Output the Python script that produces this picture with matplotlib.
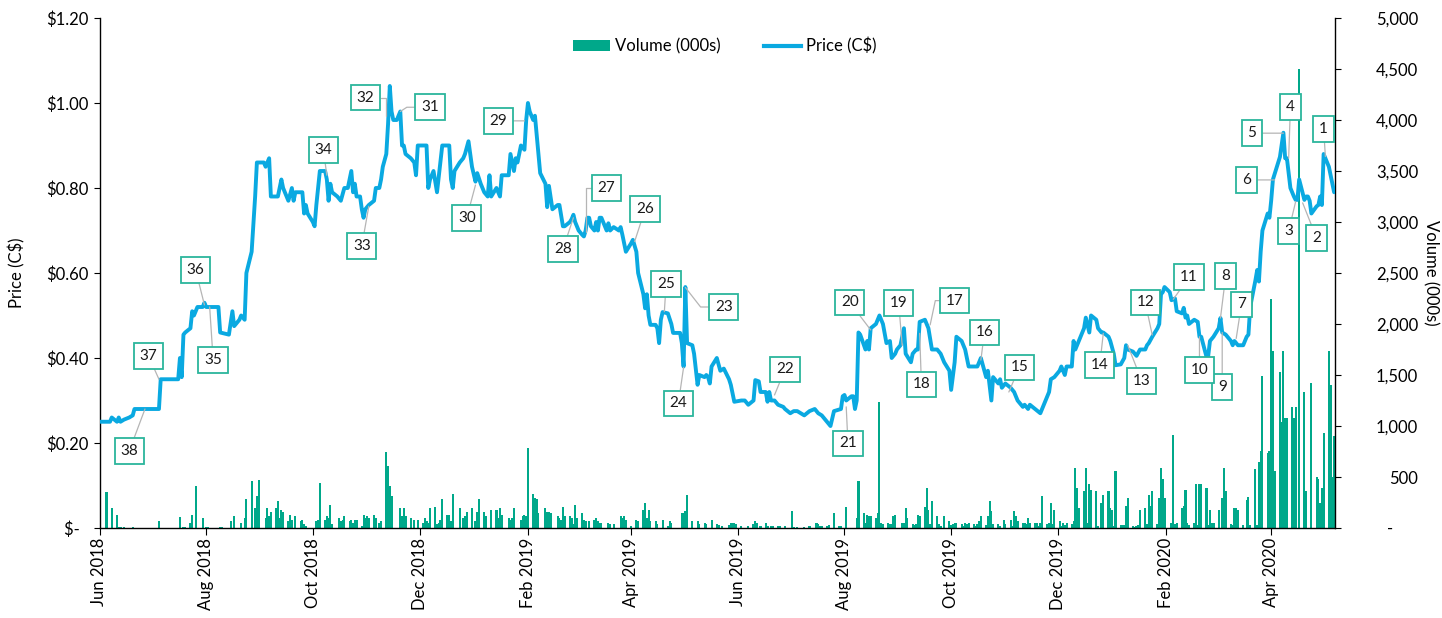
import matplotlib
matplotlib.use('Agg')
import matplotlib.pyplot as plt
import matplotlib.dates as mdates
from matplotlib.patches import Patch
from matplotlib.lines import Line2D
from matplotlib.ticker import FuncFormatter, MultipleLocator
import pandas as pd

plt.rcParams['font.family'] = ['Lato', 'DejaVu Sans']

BLUE = '#0aa9e1'
GREEN = '#00a88a'
BOX_EDGE = '#2bb59c'
LEADER = '#b5b5b5'

# daily closing price (C$)
price_dates = [
    '2018-06-01', '2018-06-07', '2018-06-08', '2018-06-11', '2018-06-12', '2018-06-13', '2018-06-15',
    '2018-06-18', '2018-06-20', '2018-06-21', '2018-07-05', '2018-07-06', '2018-07-16', '2018-07-17',
    '2018-07-18', '2018-07-19', '2018-07-20', '2018-07-23', '2018-07-24', '2018-07-25', '2018-07-26',
    '2018-07-27', '2018-07-30', '2018-07-31', '2018-08-01', '2018-08-08', '2018-08-09', '2018-08-14',
    '2018-08-16', '2018-08-17', '2018-08-20', '2018-08-21', '2018-08-23', '2018-08-24', '2018-08-27',
    '2018-08-29', '2018-08-30', '2018-09-03', '2018-09-04', '2018-09-06', '2018-09-07', '2018-09-11',
    '2018-09-13', '2018-09-14', '2018-09-17', '2018-09-19', '2018-09-20', '2018-09-21', '2018-09-25',
    '2018-09-26', '2018-09-27', '2018-09-28', '2018-10-01', '2018-10-02', '2018-10-03', '2018-10-04',
    '2018-10-05', '2018-10-08', '2018-10-09', '2018-10-10', '2018-10-11', '2018-10-12', '2018-10-15',
    '2018-10-17', '2018-10-19', '2018-10-21', '2018-10-22', '2018-10-23', '2018-10-24', '2018-10-25',
    '2018-10-26', '2018-10-28', '2018-10-29', '2018-10-30', '2018-10-31', '2018-11-02', '2018-11-05',
    '2018-11-06', '2018-11-08', '2018-11-09', '2018-11-10', '2018-11-12', '2018-11-13', '2018-11-14',
    '2018-11-15', '2018-11-16', '2018-11-18', '2018-11-20', '2018-11-21', '2018-11-22', '2018-11-23',
    '2018-11-26', '2018-11-28', '2018-11-29', '2018-11-30', '2018-12-05', '2018-12-06', '2018-12-07',
    '2018-12-09', '2018-12-11', '2018-12-14', '2018-12-18', '2018-12-19', '2018-12-20', '2018-12-21',
    '2018-12-24', '2018-12-26', '2018-12-27', '2018-12-28', '2018-12-29', '2018-12-30', '2018-12-31',
    '2019-01-02', '2019-01-03', '2019-01-05', '2019-01-07', '2019-01-09', '2019-01-10', '2019-01-11',
    '2019-01-14', '2019-01-15', '2019-01-16', '2019-01-17', '2019-01-21', '2019-01-22', '2019-01-24',
    '2019-01-25', '2019-01-26', '2019-01-28', '2019-01-30', '2019-01-31', '2019-02-01', '2019-02-02',
    '2019-02-04', '2019-02-05', '2019-02-08', '2019-02-11', '2019-02-12', '2019-02-13', '2019-02-15',
    '2019-02-18', '2019-02-19', '2019-02-20', '2019-02-21', '2019-02-22', '2019-02-25', '2019-02-26',
    '2019-02-27', '2019-02-28', '2019-03-02', '2019-03-04', '2019-03-05', '2019-03-06', '2019-03-07',
    '2019-03-08', '2019-03-09', '2019-03-11', '2019-03-12', '2019-03-13', '2019-03-14', '2019-03-15',
    '2019-03-18', '2019-03-19', '2019-03-20', '2019-03-22', '2019-03-25', '2019-03-26', '2019-03-27',
    '2019-03-29', '2019-04-01', '2019-04-02', '2019-04-04', '2019-04-05', '2019-04-08', '2019-04-09',
    '2019-04-10', '2019-04-11', '2019-04-12', '2019-04-15', '2019-04-16', '2019-04-17', '2019-04-18',
    '2019-04-19', '2019-04-22', '2019-04-24', '2019-04-25', '2019-04-29', '2019-04-30', '2019-05-01',
    '2019-05-02', '2019-05-03', '2019-05-06', '2019-05-07', '2019-05-09', '2019-05-10', '2019-05-13',
    '2019-05-14', '2019-05-15', '2019-05-16', '2019-05-17', '2019-05-20', '2019-05-22', '2019-05-24',
    '2019-05-27', '2019-05-28', '2019-05-30', '2019-06-03', '2019-06-05', '2019-06-07', '2019-06-10',
    '2019-06-11', '2019-06-13', '2019-06-14', '2019-06-17', '2019-06-18', '2019-06-19', '2019-06-20',
    '2019-06-22', '2019-06-24', '2019-06-27', '2019-06-28', '2019-07-01', '2019-07-03', '2019-07-05',
    '2019-07-09', '2019-07-12', '2019-07-15', '2019-07-17', '2019-07-19', '2019-07-22', '2019-07-24',
    '2019-07-26', '2019-07-30', '2019-07-31', '2019-08-01', '2019-08-02', '2019-08-05', '2019-08-06',
    '2019-08-07', '2019-08-08', '2019-08-09', '2019-08-10', '2019-08-13', '2019-08-14', '2019-08-15',
    '2019-08-16', '2019-08-19', '2019-08-21', '2019-08-23', '2019-08-25', '2019-08-27', '2019-08-28',
    '2019-08-30', '2019-08-31', '2019-09-02', '2019-09-04', '2019-09-05', '2019-09-08', '2019-09-09',
    '2019-09-11', '2019-09-12', '2019-09-13', '2019-09-16', '2019-09-18', '2019-09-20', '2019-09-23',
    '2019-09-25', '2019-09-27', '2019-09-30', '2019-10-01', '2019-10-03', '2019-10-04', '2019-10-07',
    '2019-10-09', '2019-10-11', '2019-10-16', '2019-10-18', '2019-10-20', '2019-10-21', '2019-10-22',
    '2019-10-24', '2019-10-25', '2019-10-28', '2019-10-29', '2019-10-30', '2019-11-01', '2019-11-04',
    '2019-11-06', '2019-11-08', '2019-11-11', '2019-11-12', '2019-11-14', '2019-11-15', '2019-11-18',
    '2019-11-21', '2019-11-25', '2019-11-26', '2019-11-27', '2019-11-29', '2019-12-02', '2019-12-03',
    '2019-12-05', '2019-12-06', '2019-12-09', '2019-12-10', '2019-12-11', '2019-12-13', '2019-12-16',
    '2019-12-17', '2019-12-19', '2019-12-20', '2019-12-23', '2019-12-24', '2019-12-26', '2019-12-27',
    '2019-12-30', '2019-12-31', '2020-01-02', '2020-01-03', '2020-01-06', '2020-01-08', '2020-01-09',
    '2020-01-10', '2020-01-13', '2020-01-15', '2020-01-17', '2020-01-20', '2020-01-21', '2020-01-22',
    '2020-01-24', '2020-01-27', '2020-01-28', '2020-01-29', '2020-01-30', '2020-01-31', '2020-02-03',
    '2020-02-04', '2020-02-06', '2020-02-07', '2020-02-10', '2020-02-11', '2020-02-12', '2020-02-13',
    '2020-02-14', '2020-02-17', '2020-02-19', '2020-02-20', '2020-02-21', '2020-02-24', '2020-02-25',
    '2020-02-26', '2020-02-27', '2020-02-28', '2020-03-02', '2020-03-03', '2020-03-04', '2020-03-06',
    '2020-03-09', '2020-03-10', '2020-03-11', '2020-03-13', '2020-03-16', '2020-03-17', '2020-03-18',
    '2020-03-19', '2020-03-20', '2020-03-23', '2020-03-24', '2020-03-25', '2020-03-26', '2020-03-27',
    '2020-03-30', '2020-03-31', '2020-04-01', '2020-04-02', '2020-04-06', '2020-04-08', '2020-04-09',
    '2020-04-10', '2020-04-12', '2020-04-14', '2020-04-15', '2020-04-16', '2020-04-17', '2020-04-20',
    '2020-04-21', '2020-04-22', '2020-04-23', '2020-04-24', '2020-04-27', '2020-04-28', '2020-04-29',
    '2020-04-30', '2020-05-01', '2020-05-04', '2020-05-05', '2020-05-06', '2020-05-07',
]
price_vals = [
    0.250, 0.250, 0.260, 0.250, 0.260, 0.250, 0.255,
    0.260, 0.265, 0.280, 0.280, 0.350, 0.350, 0.400,
    0.355, 0.455, 0.460, 0.470, 0.510, 0.500, 0.510,
    0.520, 0.520, 0.530, 0.520, 0.520, 0.460, 0.455,
    0.510, 0.475, 0.490, 0.500, 0.490, 0.600, 0.650,
    0.780, 0.860, 0.860, 0.850, 0.870, 0.780, 0.780,
    0.820, 0.800, 0.770, 0.800, 0.770, 0.790, 0.790,
    0.740, 0.760, 0.740, 0.720, 0.710, 0.760, 0.800,
    0.840, 0.840, 0.820, 0.770, 0.810, 0.790, 0.780,
    0.770, 0.800, 0.800, 0.820, 0.840, 0.790, 0.810,
    0.780, 0.780, 0.750, 0.730, 0.750, 0.760, 0.770,
    0.800, 0.800, 0.820, 0.850, 0.880, 0.950, 1.040,
    0.980, 0.960, 0.960, 0.980, 0.900, 0.900, 0.880,
    0.870, 0.860, 0.830, 0.900, 0.900, 0.800, 0.820,
    0.840, 0.790, 0.900, 0.900, 0.820, 0.800, 0.840,
    0.860, 0.870, 0.880, 0.895, 0.910, 0.880, 0.850,
    0.815, 0.835, 0.810, 0.790, 0.780, 0.830, 0.780,
    0.800, 0.790, 0.780, 0.830, 0.830, 0.880, 0.840,
    0.870, 0.860, 0.900, 0.890, 0.960, 1.000, 0.980,
    0.960, 0.970, 0.835, 0.810, 0.755, 0.805, 0.750,
    0.760, 0.760, 0.735, 0.710, 0.710, 0.720, 0.727,
    0.737, 0.720, 0.700, 0.690, 0.686, 0.700, 0.730,
    0.730, 0.710, 0.700, 0.720, 0.700, 0.730, 0.730,
    0.700, 0.717, 0.700, 0.708, 0.700, 0.708, 0.690,
    0.650, 0.670, 0.678, 0.650, 0.600, 0.550, 0.517,
    0.550, 0.500, 0.478, 0.478, 0.470, 0.435, 0.490,
    0.508, 0.505, 0.480, 0.459, 0.459, 0.435, 0.380,
    0.567, 0.435, 0.430, 0.410, 0.337, 0.360, 0.355,
    0.360, 0.355, 0.340, 0.380, 0.400, 0.370, 0.375,
    0.350, 0.337, 0.297, 0.300, 0.300, 0.290, 0.300,
    0.348, 0.345, 0.320, 0.320, 0.297, 0.320, 0.300,
    0.300, 0.290, 0.285, 0.280, 0.270, 0.275, 0.275,
    0.265, 0.275, 0.280, 0.270, 0.265, 0.250, 0.240,
    0.275, 0.280, 0.310, 0.313, 0.300, 0.310, 0.310,
    0.280, 0.300, 0.460, 0.455, 0.420, 0.440, 0.420,
    0.470, 0.480, 0.500, 0.480, 0.435, 0.440, 0.400,
    0.410, 0.420, 0.430, 0.470, 0.410, 0.390, 0.410,
    0.420, 0.420, 0.485, 0.490, 0.470, 0.420, 0.420,
    0.410, 0.390, 0.370, 0.325, 0.390, 0.450, 0.440,
    0.420, 0.380, 0.380, 0.400, 0.370, 0.355, 0.370,
    0.300, 0.355, 0.340, 0.350, 0.330, 0.340, 0.330,
    0.320, 0.300, 0.285, 0.290, 0.280, 0.290, 0.280,
    0.270, 0.310, 0.320, 0.350, 0.355, 0.370, 0.380,
    0.360, 0.380, 0.380, 0.440, 0.420, 0.440, 0.470,
    0.495, 0.460, 0.500, 0.490, 0.470, 0.460, 0.460,
    0.450, 0.440, 0.410, 0.383, 0.385, 0.400, 0.430,
    0.420, 0.415, 0.405, 0.420, 0.420, 0.430, 0.435,
    0.450, 0.470, 0.480, 0.550, 0.555, 0.567, 0.555,
    0.536, 0.540, 0.510, 0.505, 0.518, 0.495, 0.500,
    0.480, 0.490, 0.485, 0.450, 0.450, 0.403, 0.405,
    0.440, 0.445, 0.450, 0.470, 0.494, 0.460, 0.455,
    0.440, 0.430, 0.440, 0.430, 0.430, 0.440, 0.450,
    0.455, 0.520, 0.583, 0.607, 0.580, 0.650, 0.700,
    0.740, 0.730, 0.770, 0.820, 0.873, 0.930, 0.870,
    0.870, 0.800, 0.780, 0.772, 0.772, 0.820, 0.772,
    0.780, 0.780, 0.770, 0.740, 0.757, 0.760, 0.780,
    0.760, 0.880, 0.850, 0.830, 0.810, 0.790,
]

# daily volume (000s), one value per weekday of each month
vol_jun18 = [50, 0, 350, 0, 0, 200, 130, 10, 5, 0, 5, 0, 0, 5, 0, 0, 0, 0, 0, 0, 0]
vol_jul18 = [0, 0, 0, 65, 0, 0, 0, 0, 0, 0, 0, 105, 0, 10, 10, 50, 130, 0, 410, 0, 100, 0]
vol_aug18 = [8, 8, 0, 0, 0, 0, 8, 8, 0, 0, 65, 0, 115, 0, 50, 0, 100, 280, 460, 0, 195, 310, 475]
vol_sep18 = [0, 100, 195, 115, 160, 195, 260, 100, 180, 160, 65, 125, 80, 0, 115, 65, 80, 35, 15, 0]
vol_oct18 = [0, 0, 65, 80, 440, 80, 115, 100, 230, 35, 0, 100, 65, 80, 115, 65, 80, 50, 80, 80, 15, 130, 100]
vol_nov18 = [115, 100, 130, 100, 0, 50, 65, 750, 605, 410, 310, 0, 0, 195, 115, 195, 115, 100, 0, 80, 0, 80]
vol_dec18 = [50, 100, 65, 50, 195, 210, 35, 50, 80, 280, 130, 130, 65, 330, 0, 195, 0, 100, 115, 160, 195]
vol_jan19 = [0, 65, 160, 280, 160, 115, 0, 0, 180, 180, 100, 195, 130, 0, 100, 80, 100, 195, 0, 80, 115, 130, 115]
vol_feb19 = [785, 330, 290, 280, 150, 0, 195, 160, 160, 150, 0, 115, 100, 80, 210, 115, 115, 100, 35, 230]
vol_mar19 = [100, 150, 80, 65, 0, 65, 80, 100, 65, 50, 50, 0, 50, 35, 0, 35, 0, 115, 100, 115, 80]
vol_apr19 = [15, 0, 0, 80, 65, 180, 245, 100, 180, 65, 65, 35, 0, 0, 80, 15, 65, 50, 0, 0, 0, 150]
vol_may19 = [150, 165, 325, 65, 0, 0, 65, 35, 50, 35, 0, 0, 80, 35, 25, 0, 15, 0, 25, 50, 50, 50, 35]
vol_jun19 = [15, 0, 0, 0, 15, 35, 65, 50, 0, 15, 50, 15, 0, 15, 15, 15, 15, 0, 0, 15]
vol_jul19 = [0, 165, 10, 0, 10, 0, 10, 0, 0, 15, 0, 50, 35, 15, 15, 15, 25, 0, 0, 150, 15, 15, 0]
vol_aug19 = [0, 210, 0, 0, 0, 100, 460, 150, 50, 130, 115, 115, 100, 150, 1235, 50, 35, 50, 35, 35, 115, 130]
vol_sep19 = [0, 50, 50, 195, 100, 35, 25, 35, 130, 115, 210, 390, 180, 35, 260, 115, 35, 15, 0, 115, 65]
vol_oct19 = [25, 35, 50, 50, 35, 15, 50, 35, 50, 35, 15, 35, 65, 115, 25, 115, 260, 165, 35, 35, 15, 0, 80]
vol_nov19 = [35, 80, 15, 165, 115, 65, 50, 50, 35, 100, 50, 50, 50, 15, 50, 310, 35, 50, 245, 35, 180]
vol_dec19 = [65, 15, 50, 25, 50, 35, 65, 590, 395, 200, 360, 590, 50, 430, 375, 360, 15, 0, 250, 325, 360, 200]
vol_jan20 = [180, 20, 555, 25, 30, 25, 215, 290, 20, 10, 20, 30, 180, 200, 40, 325, 215, 360, 40, 290, 590, 485, 290]
vol_feb20 = [0, 50, 915, 40, 50, 200, 215, 375, 50, 30, 45, 430, 30, 430, 430, 395, 25, 180, 45, 50]
vol_mar20 = [180, 0, 290, 590, 360, 35, 30, 200, 200, 180, 30, 0, 270, 305, 25, 575, 30, 645, 755, 1490, 735, 755]
vol_apr20 = [2245, 1740, 555, 1525, 1040, 1740, 1075, 1075, 1185, 1075, 1185, 0, 4500, 1330, 360, 0, 0, 1420,
             500, 485, 250, 395]
vol_may20 = [935, 1740, 1400, 500, 900]

vol_months = [
    ('2018-06', vol_jun18), ('2018-07', vol_jul18), ('2018-08', vol_aug18), ('2018-09', vol_sep18),
    ('2018-10', vol_oct18), ('2018-11', vol_nov18), ('2018-12', vol_dec18), ('2019-01', vol_jan19),
    ('2019-02', vol_feb19), ('2019-03', vol_mar19), ('2019-04', vol_apr19), ('2019-05', vol_may19),
    ('2019-06', vol_jun19), ('2019-07', vol_jul19), ('2019-08', vol_aug19), ('2019-09', vol_sep19),
    ('2019-10', vol_oct19), ('2019-11', vol_nov19), ('2019-12', vol_dec19), ('2020-01', vol_jan20),
    ('2020-02', vol_feb20), ('2020-03', vol_mar20), ('2020-04', vol_apr20), ('2020-05', vol_may20),
]

# numbered events: point on the price line they refer to
note_nums = list(range(1, 39))
note_dates = [
    '2020-05-02', '2020-04-19', '2020-04-15', '2020-04-11', '2020-04-08', '2020-04-03', '2020-03-12',
    '2020-03-03', '2020-03-04', '2020-02-20', '2020-02-05', '2020-01-24', '2020-01-10', '2019-12-27',
    '2019-11-03', '2019-10-18', '2019-09-19', '2019-09-13', '2019-09-03', '2019-08-16', '2019-08-02',
    '2019-06-22', '2019-05-02', '2019-05-01', '2019-04-20', '2019-04-03', '2019-03-06', '2019-02-27',
    '2019-01-30', '2019-01-02', '2018-11-20', '2018-11-12', '2018-11-02', '2018-10-09', '2018-08-03',
    '2018-07-31', '2018-07-05', '2018-06-27',
]
note_prices = [
    0.874, 0.765, 0.768, 0.870, 0.929, 0.819, 0.446,
    0.494, 0.460, 0.450, 0.538, 0.454, 0.430, 0.458,
    0.320, 0.395, 0.478, 0.458, 0.430, 0.466, 0.285,
    0.313, 0.566, 0.378, 0.509, 0.674, 0.697, 0.730,
    0.958, 0.807, 0.980, 0.970, 0.757, 0.830, 0.520,
    0.525, 0.350, 0.280,
]

# where each numbered box sits (date, price) and how its leader is bent
box_place = {
    1: ('2020-05-01', 0.939), 2: ('2020-04-27', 0.682), 3: ('2020-04-11', 0.699),
    4: ('2020-04-12', 0.990), 5: ('2020-03-21', 0.929), 6: ('2020-03-18', 0.819),
    7: ('2020-03-15', 0.526), 8: ('2020-03-06', 0.593), 9: ('2020-03-04', 0.332),
    10: ('2020-02-20', 0.372), 11: ('2020-02-14', 0.590), 12: ('2020-01-20', 0.531),
    13: ('2020-01-18', 0.346), 14: ('2019-12-25', 0.384), 15: ('2019-11-09', 0.378),
    16: ('2019-10-20', 0.460), 17: ('2019-10-03', 0.535), 18: ('2019-09-14', 0.338),
    19: ('2019-09-01', 0.529), 20: ('2019-08-04', 0.531), 21: ('2019-08-03', 0.199),
    22: ('2019-06-28', 0.373), 23: ('2019-05-24', 0.520), 24: ('2019-04-28', 0.293),
    25: ('2019-04-21', 0.574), 26: ('2019-04-09', 0.750), 27: ('2019-03-18', 0.800),
    28: ('2019-02-21', 0.656), 29: ('2019-01-15', 0.958), 30: ('2018-12-28', 0.730),
    31: ('2018-12-07', 0.990), 32: ('2018-10-31', 1.0125), 33: ('2018-10-29', 0.664),
    34: ('2018-10-07', 0.890), 35: ('2018-08-05', 0.395), 36: ('2018-07-26', 0.607),
    37: ('2018-06-29', 0.405), 38: ('2018-06-18', 0.181),
}
bent = {
    17: 'angle,angleA=0,angleB=78',
    23: 'angle,angleA=0,angleB=-52',
    27: 'angle,angleA=0,angleB=90',
    31: 'angle,angleA=0,angleB=33',
    32: 'angle,angleA=0,angleB=90',
}


def dollar(v, pos):
    if abs(v) < 1e-9:
        return '$-  '
    return f'${v:.2f}'


def thousands(v, pos):
    if abs(v) < 1e-9:
        return '-      '
    return f'{v:,.0f}'


vol_x = []
vol_y = []
for month, vals in vol_months:
    start = pd.Timestamp(month + '-01')
    days = pd.bdate_range(start, start + pd.offsets.MonthEnd(0))
    for d, v in zip(days, vals):
        vol_x.append(d)
        vol_y.append(v)

fig = plt.figure(figsize=(14.42, 6.18), dpi=100)
ax = fig.add_axes([99.5 / 1442, 90 / 618, 1235.5 / 1442, 510 / 618])
ax2 = ax.twinx()

ax2.bar(vol_x, vol_y, width=1.2, color=GREEN, linewidth=0, antialiased=False)
ax.plot(pd.to_datetime(price_dates), price_vals, color=BLUE, lw=2.8,
        solid_joinstyle='round', solid_capstyle='round', zorder=3)

ax.set_zorder(ax2.get_zorder() + 1)
ax.patch.set_visible(False)

ax.set_xlim(pd.Timestamp('2018-06-01'), pd.Timestamp('2020-05-07 12:00'))
ax.set_ylim(0, 1.2)
ax2.set_ylim(0, 5000)

ax.xaxis.set_major_locator(mdates.MonthLocator(bymonth=[2, 4, 6, 8, 10, 12]))
ax.xaxis.set_major_formatter(mdates.DateFormatter('%b %Y'))
ax.yaxis.set_major_locator(MultipleLocator(0.2))
ax.yaxis.set_major_formatter(FuncFormatter(dollar))
ax2.yaxis.set_major_locator(MultipleLocator(500))
ax2.yaxis.set_major_formatter(FuncFormatter(thousands))

for s in ['top', 'right']:
    ax.spines[s].set_visible(False)
for s in ['top', 'left', 'bottom']:
    ax2.spines[s].set_visible(False)
for sp in [ax.spines['left'], ax.spines['bottom'], ax2.spines['right']]:
    sp.set_linewidth(1.0)
    sp.set_color('black')

ax.tick_params(axis='x', length=5, width=0.8, labelsize=12, labelrotation=90, pad=2)
ax.tick_params(axis='y', length=4, width=0.8, labelsize=12, pad=4)
ax2.tick_params(axis='y', length=4, width=0.8, labelsize=12, pad=56)
for lab in ax2.get_yticklabels():
    lab.set_horizontalalignment('right')

ax.set_ylabel('Price (C$)', fontsize=12)
ax.yaxis.set_label_coords(-0.060, 0.5)
ax2.set_ylabel('Volume (000s)', fontsize=12, rotation=270, va='bottom')
ax2.yaxis.set_label_coords(1.071, 0.5)

for n, d, p in zip(note_nums, note_dates, note_prices):
    bd, bp = box_place[n]
    arrow = dict(arrowstyle='-', color=LEADER, lw=0.9, shrinkA=0, shrinkB=0)
    if n in bent:
        arrow['connectionstyle'] = bent[n]
    ax.annotate(str(n), xy=(mdates.date2num(pd.Timestamp(d)), p),
                xytext=(mdates.date2num(pd.Timestamp(bd)), bp), textcoords='data',
                ha='center', va='center', fontsize=11, color='#1a1a1a',
                bbox=dict(boxstyle='square,pad=0.38', fc='white', ec=BOX_EDGE, lw=1.3),
                arrowprops=arrow, zorder=6)

handles = [Patch(facecolor=GREEN, edgecolor='none', label='Volume (000s)'),
           Line2D([0], [0], color=BLUE, lw=3, label='Price (C$)')]
ax.legend(handles=handles, loc='center', bbox_to_anchor=(0.506, 0.945), ncol=2,
          frameon=False, fontsize=12, handlelength=2.2, handleheight=0.6,
          handletextpad=0.3, columnspacing=2.6)

fig.savefig('out.png', dpi=100)
